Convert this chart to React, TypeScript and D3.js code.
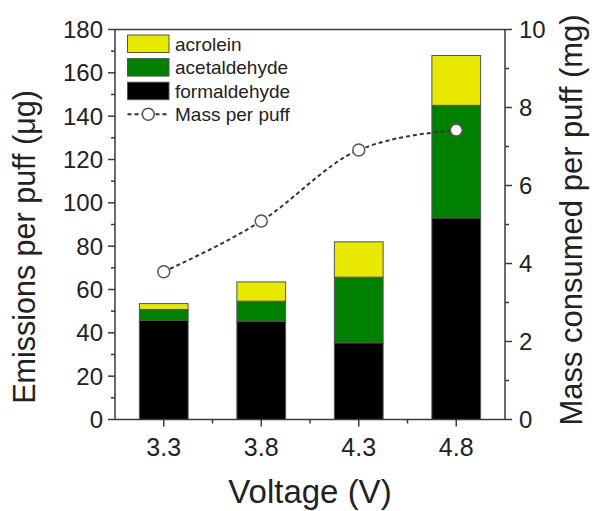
import React from "react";
import * as d3 from "d3";

const categories = ["3.3", "3.8", "4.3", "4.8"];
const formaldehyde = [45.7, 45.4, 35.4, 93];
const acetaldehyde = [5.1, 9.2, 30.3, 52];
const acrolein = [2.7, 8.9, 16.3, 23];
const massPerPuff = [3.79, 5.09, 6.91, 7.42];
const leftTicks = [0, 20, 40, 60, 80, 100, 120, 140, 160, 180];
const rightTicks = [0, 2, 4, 6, 8, 10];

const W = 592, H = 511;
const X0 = 115, X1 = 505, Y0 = 29.5, Y1 = 419.5;
const FONT = "Liberation Sans, Arial, sans-serif";
const AX = "#3a3a3a";
const YELLOW = "#e8e800";
const GREEN = "#008000";
const BLACK = "#000000";

export default function App() {
  const x = d3.scaleBand<string>().domain(categories).range([X0, X1]).paddingInner(0.5).paddingOuter(0.25);
  const yL = d3.scaleLinear().domain([0, 180]).range([Y1, Y0]);
  const yR = d3.scaleLinear().domain([0, 10]).range([Y1, Y0]);
  const bw = x.bandwidth();
  const cx = (c: string) => (x(c) as number) + bw / 2;

  const series = [
    { name: "formaldehyde", color: BLACK, vals: formaldehyde },
    { name: "acetaldehyde", color: GREEN, vals: acetaldehyde },
    { name: "acrolein", color: YELLOW, vals: acrolein },
  ];

  const bars: React.ReactNode[] = [];
  categories.forEach((c, i) => {
    let base = 0;
    series.forEach((s) => {
      const v = s.vals[i];
      bars.push(
        <rect key={c + s.name} x={x(c)} y={yL(base + v)} width={bw} height={yL(base) - yL(base + v)}
          fill={s.color} stroke="#555" strokeWidth={1} />
      );
      base += v;
    });
  });

  const line = d3.line<number>()
    .x((_, i) => cx(categories[i]))
    .y((d) => yR(d))
    .curve(d3.curveMonotoneX);

  const leftMinor = d3.range(10, 180, 20);
  const rightMinor = d3.range(1, 10, 2);
  const step = x.step();
  const bottomMinor = categories.slice(1).map((c) => cx(c) - step / 2);

  const legendItems = [
    { name: "acrolein", color: YELLOW },
    { name: "acetaldehyde", color: GREEN },
    { name: "formaldehyde", color: BLACK },
  ];

  return (
    <svg width={W} height={H} style={{ position: "absolute", left: 0, top: 0, background: "#fff" }} fontFamily={FONT}>
      {bars}
      {/* frame */}
      <line x1={X0} x2={X1} y1={Y0} y2={Y0} stroke={AX} strokeWidth={1.5} />
      <line x1={X0} x2={X1} y1={Y1} y2={Y1} stroke={AX} strokeWidth={1.5} />
      <line x1={X0} x2={X0} y1={Y0} y2={Y1} stroke={AX} strokeWidth={1.5} />
      <line x1={X1} x2={X1} y1={Y0} y2={Y1} stroke={AX} strokeWidth={1.5} />
      {/* left ticks */}
      {leftTicks.map((t) => (
        <g key={"l" + t}>
          <line x1={X0 - 7} x2={X0} y1={yL(t)} y2={yL(t)} stroke={AX} strokeWidth={1.5} />
          <text x={X0 - 12} y={yL(t)} dy="0.36em" textAnchor="end" fontSize={24} fill="#222">{t}</text>
        </g>
      ))}
      {leftMinor.map((t) => (
        <line key={"lm" + t} x1={X0 - 4} x2={X0} y1={yL(t)} y2={yL(t)} stroke={AX} strokeWidth={1.5} />
      ))}
      {/* right ticks */}
      {rightTicks.map((t) => (
        <g key={"r" + t}>
          <line x1={X1} x2={X1 + 7} y1={yR(t)} y2={yR(t)} stroke={AX} strokeWidth={1.5} />
          <text x={X1 + 14} y={yR(t)} dy="0.36em" textAnchor="start" fontSize={24} fill="#222">{t}</text>
        </g>
      ))}
      {rightMinor.map((t) => (
        <line key={"rm" + t} x1={X1} x2={X1 + 4} y1={yR(t)} y2={yR(t)} stroke={AX} strokeWidth={1.5} />
      ))}
      {/* bottom ticks */}
      {categories.map((c) => (
        <g key={"b" + c}>
          <line x1={cx(c)} x2={cx(c)} y1={Y1} y2={Y1 + 7} stroke={AX} strokeWidth={1.5} />
          <text x={cx(c)} y={Y1 + 36} textAnchor="middle" fontSize={25} fill="#222">{c}</text>
        </g>
      ))}
      {bottomMinor.map((v, i) => (
        <line key={"bm" + i} x1={v} x2={v} y1={Y1} y2={Y1 + 4} stroke={AX} strokeWidth={1.5} />
      ))}
      {/* mass per puff */}
      <path d={line(massPerPuff) as string} fill="none" stroke="#333" strokeWidth={2} strokeDasharray="4,3" />
      {massPerPuff.map((m, i) => (
        <circle key={"c" + i} cx={cx(categories[i])} cy={yR(m)} r={6} fill="#fff" stroke="#555" strokeWidth={1.5} />
      ))}
      {/* legend */}
      {legendItems.map((it, i) => (
        <g key={"lg" + it.name}>
          <rect x={127.5} y={35 + i * 23.6} width={41.5} height={17.5} fill={it.color} stroke="#555" strokeWidth={1} />
          <text x={175} y={35 + i * 23.6 + 8.75} dy="0.36em" fontSize={19} fill="#222">{it.name}</text>
        </g>
      ))}
      <line x1={127.5} x2={169} y1={114.3} y2={114.3} stroke="#333" strokeWidth={2} strokeDasharray="4,3" />
      <circle cx={148.3} cy={114.3} r={6} fill="#fff" stroke="#555" strokeWidth={1.5} />
      <text x={175} y={114.3} dy="0.36em" fontSize={19} fill="#222">Mass per puff</text>
      {/* axis titles */}
      <text x={(X0 + X1) / 2} y={503} textAnchor="middle" fontSize={33} fill="#222">Voltage (V)</text>
      <text transform={`translate(35,247) rotate(-90)`} textAnchor="middle" fontSize={30.5} fill="#222">Emissions per puff (μg)</text>
      <text transform={`translate(582,220) rotate(-90)`} textAnchor="middle" fontSize={31} fill="#222">Mass consumed per puff (mg)</text>
    </svg>
  );
}
